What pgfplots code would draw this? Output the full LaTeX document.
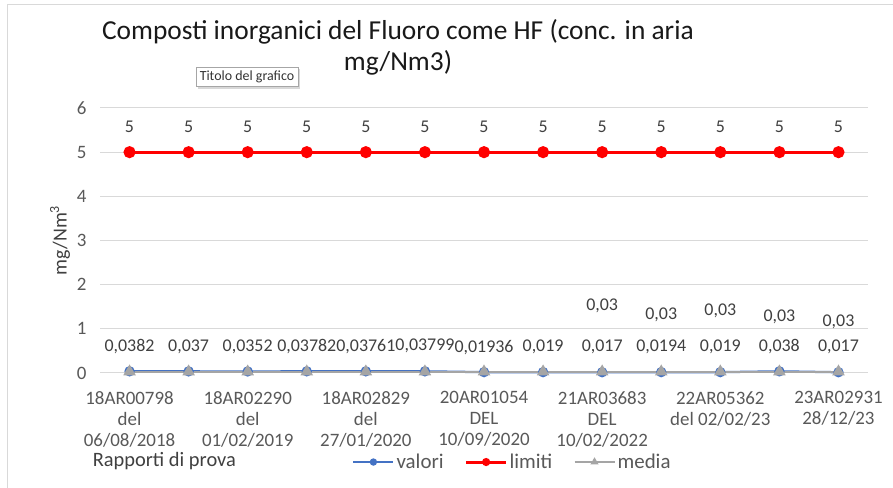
\documentclass[border=0pt]{standalone}
\usepackage{fontspec}
\setmainfont{Carlito}
\usepackage{pgfplots}
\pgfplotsset{compat=1.18}
\usepackage{pgfplotstable}
\usetikzlibrary{shadows}

\definecolor{valblue}{HTML}{4472C4}
\definecolor{limred}{HTML}{FF0000}
\definecolor{medgray}{HTML}{A5A5A5}
\definecolor{txtgray}{HTML}{595959}
\definecolor{lblgray}{HTML}{404040}
\definecolor{gridgray}{HTML}{D9D9D9}

\pgfplotstableread{
x y lab
0 0.0382 0,0382
1 0.037 0,037
2 0.0352 0,0352
3 0.03782 0,03782
4 0.03761 0,03761
5 0.03799 0,03799
6 0.01936 0,01936
7 0.019 0,019
8 0.017 0,017
9 0.0194 0,0194
10 0.019 0,019
11 0.038 0,038
12 0.017 0,017
}\valori

\pgfplotstableread{
x y lab
0 5 5
1 5 5
2 5 5
3 5 5
4 5 5
5 5 5
6 5 5
7 5 5
8 5 5
9 5 5
10 5 5
11 5 5
12 5 5
}\limiti

\pgfplotstableread{
x y lab off
0 0.03 {} 0
1 0.03 {} 0
2 0.03 {} 0
3 0.03 {} 0
4 0.03 {} 0
5 0.03 {} 0
6 0.03 {} 0
7 0.03 {} 0
8 0.03 0,03 66
9 0.03 0,03 57
10 0.03 0,03 61
11 0.03 0,03 55
12 0.03 0,03 50
}\media

\begin{document}
\begin{tikzpicture}[x=1bp,y=1bp]
\useasboundingbox (0,0) rectangle (893,488);
\fill[white] (0,0) rectangle (893,488);
\draw[gridgray, line width=1bp] (7,0) -- (7,483) -- (893,483);

\begin{axis}[
  at={(100bp,115bp)}, anchor=south west,
  scale only axis, width=768bp, height=265bp,
  xmin=-0.5, xmax=12.5, ymin=0, ymax=6,
  ytick={0,1,...,6},
  xtick={0,2,...,12},
  xticklabels={{18AR00798\\del\\06/08/2018},{18AR02290\\del\\01/02/2019},{18AR02829\\del\\27/01/2020},{20AR01054\\DEL\\10/09/2020},{21AR03683\\DEL\\10/02/2022},{22AR05362\\del 02/02/23},{23AR02931\\28/12/23}},
  ymajorgrids, grid style={gridgray, line width=1bp},
  axis line style={draw=none},
  major tick length=0pt,
  /pgf/number format/assume math mode=true,
  tick label style={font=\fontsize{19}{21}\selectfont, text=txtgray},
  xticklabel style={align=center, anchor=north, yshift=-15bp},
  yticklabel style={xshift=-10bp},
  clip=false,
  xlabel={Rapporti di prova},
  xlabel style={at={(axis description cs:-0.014,-0.332)}, anchor=west, font=\fontsize{20.5}{24}\selectfont, text=lblgray},
  ylabel={mg/Nm\textsuperscript{3}},
  ylabel style={at={(axis description cs:-0.052,0.5)}, anchor=center, font=\fontsize{20}{24}\selectfont, text=lblgray},
  legend style={at={(axis description cs:0.537,-0.336)}, anchor=center, draw=none, fill=none,
    font=\fontsize{21}{24}\selectfont, text=txtgray, legend columns=3,
    /tikz/every even column/.append style={column sep=19bp}},
  legend image code/.code={\draw[#1, mark size=2.5bp, mark repeat=2, mark phase=2] plot coordinates {(0bp,0bp)(20bp,0bp)(40bp,0bp)};},
  nodes near coords, point meta=explicit symbolic,
  every node near coord/.append style={font=\fontsize{18}{20}\selectfont, text=lblgray, anchor=center},
]
\addplot[color=valblue, line width=2.25bp, mark=*, mark size=4bp, mark options={fill=valblue},
  every node near coord/.append style={yshift=25bp}]
  table[x=x, y=y, meta=lab] {\valori};
\addlegendentry{valori}
\addplot[color=limred, line width=3bp, mark=*, mark size=4.5bp, mark options={fill=limred},
  every node near coord/.append style={yshift=25bp}]
  table[x=x, y=y, meta=lab] {\limiti};
\addlegendentry{limiti}
\addplot[color=medgray, line width=2.25bp, mark=triangle*, mark size=5bp, mark options={fill=medgray},
  visualization depends on={\thisrow{off} \as \myoff},
  every node near coord/.append style={yshift=\myoff bp}]
  table[x=x, y=y, meta=lab] {\media};
\addlegendentry{media}
\end{axis}

\node[align=center, font=\fontsize{27.5}{31}\selectfont, text=black!90] at (398,441)
  {Composti inorganici del Fluoro come HF (conc. in aria\\mg/Nm3)};
\node[draw=gray!70, fill=white, drop shadow={opacity=0.3, shadow xshift=2bp, shadow yshift=-2bp},
  font=\fontsize{14}{16}\selectfont, inner sep=3.5bp, text=black!80] at (247,411) {Titolo del grafico};
\end{tikzpicture}
\end{document}
